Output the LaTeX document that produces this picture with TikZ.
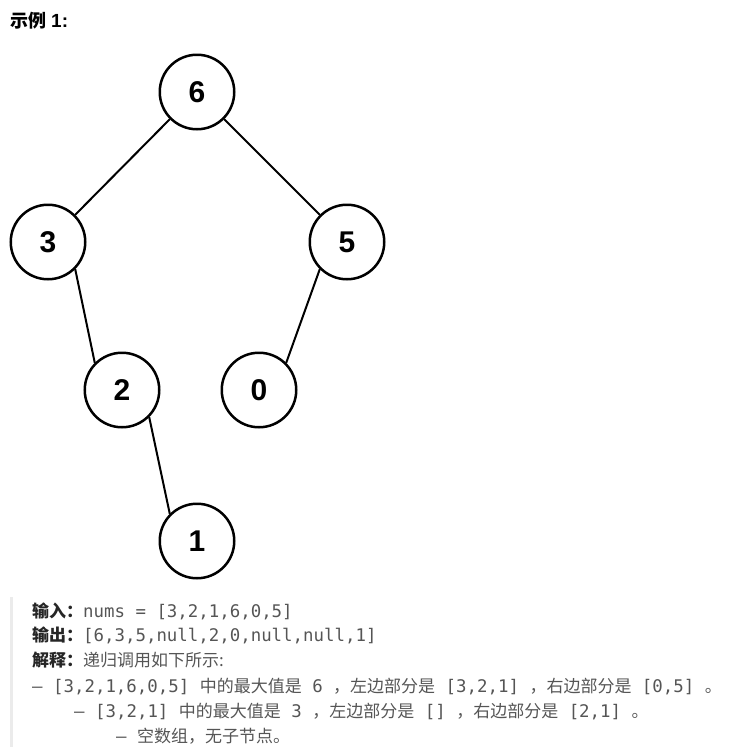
\documentclass[tikz,border=0pt]{standalone}
\usepackage{fontspec}
\setmainfont{Liberation Sans}
\newfontfamily\cjkfont{Noto Sans CJK SC}
\newfontfamily\codefont{DejaVu Sans Mono}
\usetikzlibrary{positioning}
\definecolor{textgray}{RGB}{85,85,85}
\definecolor{labelgray}{RGB}{38,38,38}
\definecolor{bargray}{RGB}{235,235,235}
\newcommand{\zhtxt}[1]{{\cjkfont #1}}
\newcommand{\codetxt}[1]{{\codefont\fontsize{17.4}{20}\selectfont #1}}
\newcommand{\lbltxt}[1]{{\cjkfont\bfseries\color{labelgray}#1}}
\tikzset{
  treenode/.style={circle,draw=black,line width=2.5pt,minimum size=74.5pt,inner sep=0pt,
    font=\fontsize{30}{30}\selectfont\bfseries},
  treeedge/.style={draw=black,line width=2pt},
  txtline/.style={anchor=base west,inner sep=0pt,text=textgray,font=\fontsize{17}{20}\selectfont}
}
\begin{document}
\begin{tikzpicture}[x=1pt,y=-1pt]
\useasboundingbox (0,0) rectangle (735,747);
% title
\node[anchor=base west,inner sep=0pt,font=\fontsize{18}{20}\selectfont\bfseries] (title) at (10,27) {{\cjkfont\bfseries 示例} {\fontsize{19}{20}\selectfont 1:}};
% tree
\node[treenode] (n6) at (197,92) {6};
\node[treenode] (n3) at (48,242) {3};
\node[treenode] (n5) at (347,242) {5};
\node[treenode] (n2) at (122,390) {2};
\node[treenode] (n0) at (259,390) {0};
\node[treenode] (n1) at (197,541) {1};
\draw[treeedge] (n6.south west) -- (n3.north east);
\draw[treeedge] (n6.south east) -- (n5.north west);
\draw[treeedge] (n3.south east) -- (n2.north west);
\draw[treeedge] (n5.south west) -- (n0.north east);
\draw[treeedge] (n2.south east) -- (n1.north west);
% explanation block
\fill[bargray] (10,597) rectangle (13,747);
\node[txtline] (in) at (32,617) {\lbltxt{输入：}\codetxt{nums = [3,2,1,6,0,5]}};
\node[txtline] (out) at (32,641) {\lbltxt{输出：}\codetxt{[6,3,5,null,2,0,null,null,1]}};
\node[txtline] (expl) at (32,666) {\lbltxt{解释：}\zhtxt{递归调用如下所示:}};
\node[txtline] (stepa) at (32,692) {\codetxt{– [3,2,1,6,0,5]\ }\zhtxt{中的最大值是}\codetxt{\ 6\ }\zhtxt{，左边部分是}\codetxt{\ [3,2,1]\ }\zhtxt{，右边部分是}\codetxt{\ [0,5]\ }\zhtxt{。}};
\node[txtline] (stepb) at (74,717) {\codetxt{– [3,2,1]\ }\zhtxt{中的最大值是}\codetxt{\ 3\ }\zhtxt{，左边部分是}\codetxt{\ []\ }\zhtxt{，右边部分是}\codetxt{\ [2,1]\ }\zhtxt{。}};
\node[txtline] (stepc) at (116,742) {\codetxt{–\ }\zhtxt{空数组，无子节点。}};
\end{tikzpicture}
\end{document}
